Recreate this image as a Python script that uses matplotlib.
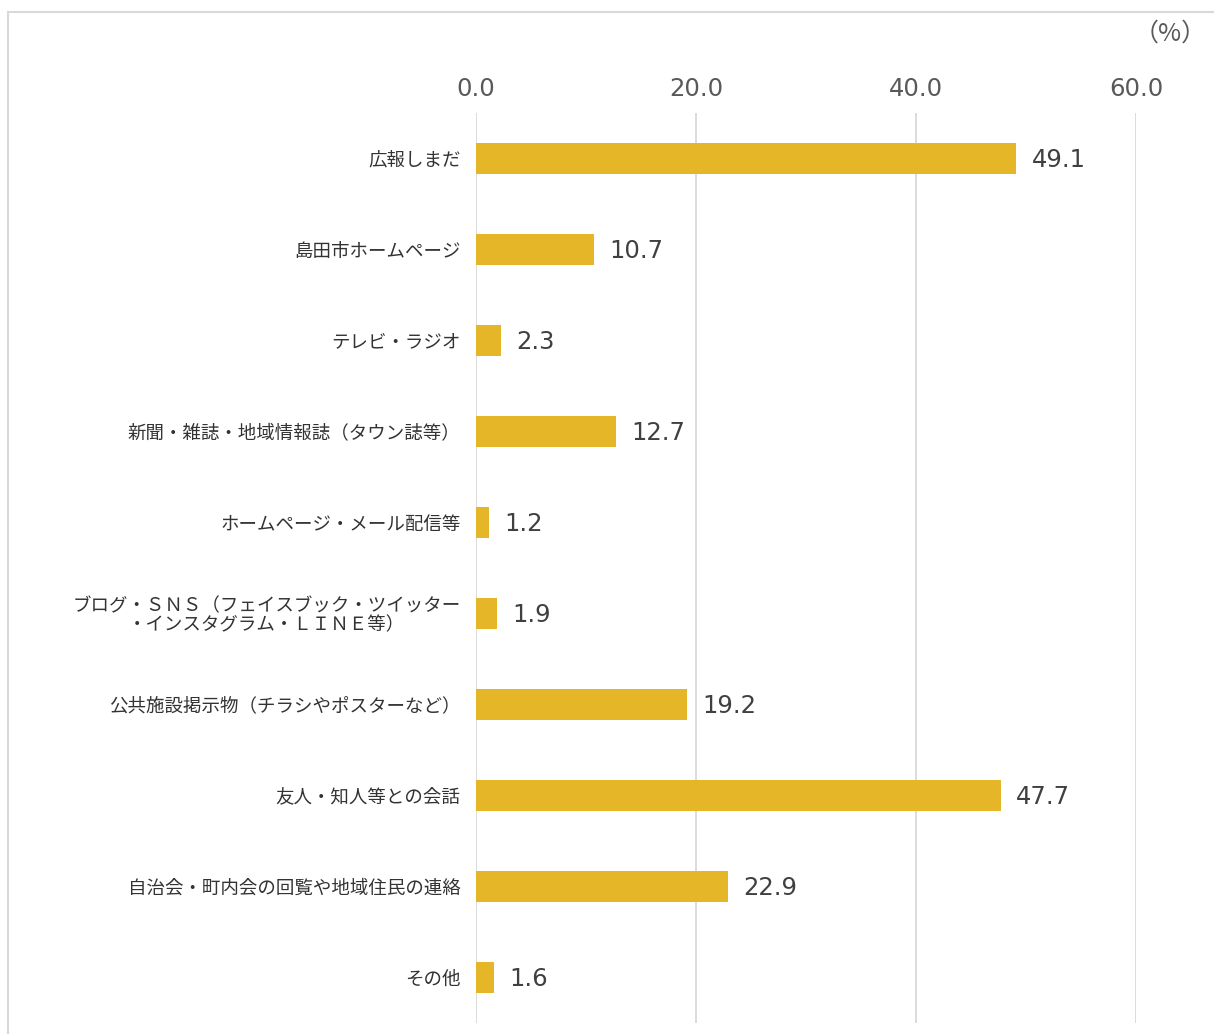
import matplotlib.pyplot as plt
from matplotlib.patches import Rectangle

plt.rcParams['font.family'] = ['Noto Sans CJK JP', 'DejaVu Sans']

categories = [
    '広報しまだ',
    '島田市ホームページ',
    'テレビ・ラジオ',
    '新聞・雑誌・地域情報誌（タウン誌等）',
    'ホームページ・メール配信等',
    'ブログ・ＳＮＳ（フェイスブック・ツイッター\n・インスタグラム・ＬＩＮＥ等）',
    '公共施設掲示物（チラシやポスターなど）',
    '友人・知人等との会話',
    '自治会・町内会の回覧や地域住民の連絡',
    'その他',
]
values = [49.1, 10.7, 2.3, 12.7, 1.2, 1.9, 19.2, 47.7, 22.9, 1.6]
ticks = [0, 20, 40, 60]

bar_color = '#E5B628'
text_color = '#595959'
grid_color = '#D9D9D9'
num_font = ['DejaVu Sans']

fig = plt.figure(figsize=(12.14, 10.34), dpi=100)

# outer frame
fig.patches.append(Rectangle((8 / 1214, -0.1), 1.2, (1034 - 12) / 1034 + 0.1,
                             transform=fig.transFigure, fill=False,
                             edgecolor=grid_color, linewidth=1.5))

ax = fig.add_axes([476 / 1214, 1 - 1023 / 1034, 660 / 1214, 910 / 1034])
pos = list(range(len(categories)))
ax.barh(pos, values, height=0.35, color=bar_color, zorder=3)
ax.set_ylim(len(categories) - 0.5, -0.5)
ax.set_xlim(0, 60)

ax.set_xticks(ticks)
ax.set_xticklabels([f'{t:.1f}' for t in ticks], family=num_font)
ax.xaxis.tick_top()
ax.tick_params(axis='x', length=0, pad=9, labelsize=17.5, labelcolor=text_color)
ax.set_yticks(pos)
ax.set_yticklabels(categories, fontsize=13.3, color='#333333', linespacing=1.05)
for lbl in ax.get_yticklabels():
    lbl.set_multialignment('center')
ax.tick_params(axis='y', length=0, pad=11)

ax.grid(axis='x', color=grid_color, linewidth=1.3, zorder=0)
for s in ax.spines.values():
    s.set_visible(False)

for p, v in zip(pos, values):
    ax.text(v + 1.4, p + 0.02, f'{v:.1f}', va='center', ha='left', family=num_font,
            fontsize=17.5, color='#404040')

fig.text(1170 / 1214, 1 - 34 / 1034, '（%）', ha='center', va='center',
         fontsize=18, color=text_color)

fig.savefig('out.png', dpi=100, facecolor='white')
